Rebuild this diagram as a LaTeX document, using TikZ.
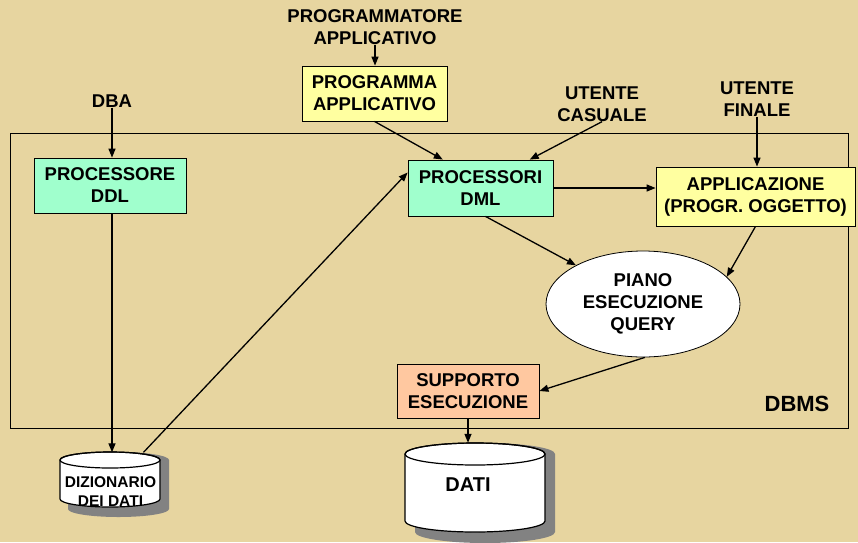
\documentclass[tikz,border=0pt]{standalone}
\usepackage{fontspec}
\setmainfont{Liberation Sans}
\usepackage{tikz}
\usetikzlibrary{arrows.meta,shapes.geometric}

\definecolor{papiro}{RGB}{231,213,160}
\definecolor{verdino}{RGB}{160,255,205}
\definecolor{giallino}{RGB}{255,255,160}
\definecolor{pesca}{RGB}{255,200,160}
\definecolor{ombra}{RGB}{130,130,130}

\begin{document}
\begin{tikzpicture}[x=1pt,y=-1pt,
	testo/.style={font=\bfseries\fontsize{18.5}{22}\selectfont,align=center,inner sep=0pt},
	blocco/.style={testo,draw,line width=0.8pt,minimum height=55pt},
	freccia/.style={line width=1.3pt,-{Triangle[length=9pt,width=7pt]}}]
			\fill[papiro] (0,0) rectangle (858,542);
			\useasboundingbox (0,0) rectangle (858,542);
			\draw[line width=0.8pt] (10,133) rectangle (848,428);
			\node[testo,font=\bfseries\fontsize{22}{26}\selectfont] (dbms) at (797,404) {DBMS};

			% utenti
			\node[testo] (dba) at (112,101) {DBA};
			\node[testo] (progr) at (375,27) {PROGRAMMATORE\\APPLICATIVO};
			\node[testo] (casuale) at (602,104) {UTENTE\\CASUALE};
			\node[testo] (finale) at (757,99) {UTENTE\\FINALE};

			% blocchi
			\node[blocco,fill=verdino,minimum width=152pt] (ddl) at (110,185.5) {PROCESSORE\\DDL};
			\node[blocco,fill=giallino,minimum width=145pt] (prog) at (374.5,93.5) {PROGRAMMA\\APPLICATIVO};
			\node[blocco,fill=verdino,minimum width=145pt,minimum height=56pt] (dml) at (480.5,188) {PROCESSORI\\DML};
			\node[blocco,fill=giallino,minimum width=199pt,minimum height=59pt] (appl) at (755.5,196.5) {APPLICAZIONE\\(PROGR. OGGETTO)};
			\node[blocco,fill=pesca,minimum width=142pt,minimum height=54pt] (supp) at (468,391) {SUPPORTO\\ESECUZIONE};
			\node[testo,ellipse,draw,line width=0.8pt,fill=white,minimum width=194pt,minimum height=106pt] (piano) at (643,304) {PIANO\\ESECUZIONE\\QUERY};

			% dischi
			\fill[ombra] (68,460) -- (68,509) arc[start angle=180,end angle=0,x radius=50.5,y radius=8] -- (169,460) arc[start angle=0,end angle=-180,x radius=50.5,y radius=8];
			\filldraw[fill=white,line width=1.2pt] (60,452+8) -- (60,507-8) arc[start angle=180,end angle=0,x radius=50,y radius=8] -- (160,460) arc[start angle=0,end angle=-180,x radius=50,y radius=8];
			\draw[line width=1.2pt] (110,460) ellipse[x radius=50,y radius=8];
			\node[testo,minimum width=100pt,minimum height=55pt] (dizio) at (110.5,480) {};
			\node[testo,font=\bfseries\fontsize{15.5}{19}\selectfont] at (110.5,492) {DIZIONARIO\\DEI DATI};

			\fill[ombra] (415,454) -- (415,532) arc[start angle=180,end angle=0,x radius=70,y radius=11] -- (555,454) arc[start angle=0,end angle=-180,x radius=70,y radius=11];
			\filldraw[fill=white,line width=1.2pt] (405,454) -- (405,521) arc[start angle=180,end angle=0,x radius=70,y radius=11] -- (545,454) arc[start angle=0,end angle=-180,x radius=70,y radius=11];
			\draw[line width=1.2pt] (475,454) ellipse[x radius=70,y radius=11];
			\node[testo,minimum width=140pt,minimum height=89pt] (dati) at (475,487.5) {};
			\node[testo,font=\bfseries\fontsize{20}{24}\selectfont] at (468,485) {DATI};

			% frecce
			\draw[freccia] (dba) -- (dba |- ddl.north);
			\draw[freccia] (progr) -- (progr |- prog.north);
			\draw[freccia] (prog.south) -- (dml.143);
			\draw[freccia] (casuale.south) -- (dml.30);
			\draw[freccia] (finale) -- (finale |- appl.north);
			\draw[freccia] (ddl.south -| dba) -- (dizio.north -| dba);
			\draw[freccia] (dizio.40) -- (dml.168);
			\draw[freccia] (dml.east) -- (dml.east -| appl.west);
			\draw[freccia] (dml.-80) -- (piano.150);
			\draw[freccia] (appl.south) -- (piano.18);
			\draw[freccia] (piano.-88) -- (supp.east);
			\draw[freccia] (supp.south) -- (dati.north -| supp.south);
  		\end{tikzpicture}
\end{document}
